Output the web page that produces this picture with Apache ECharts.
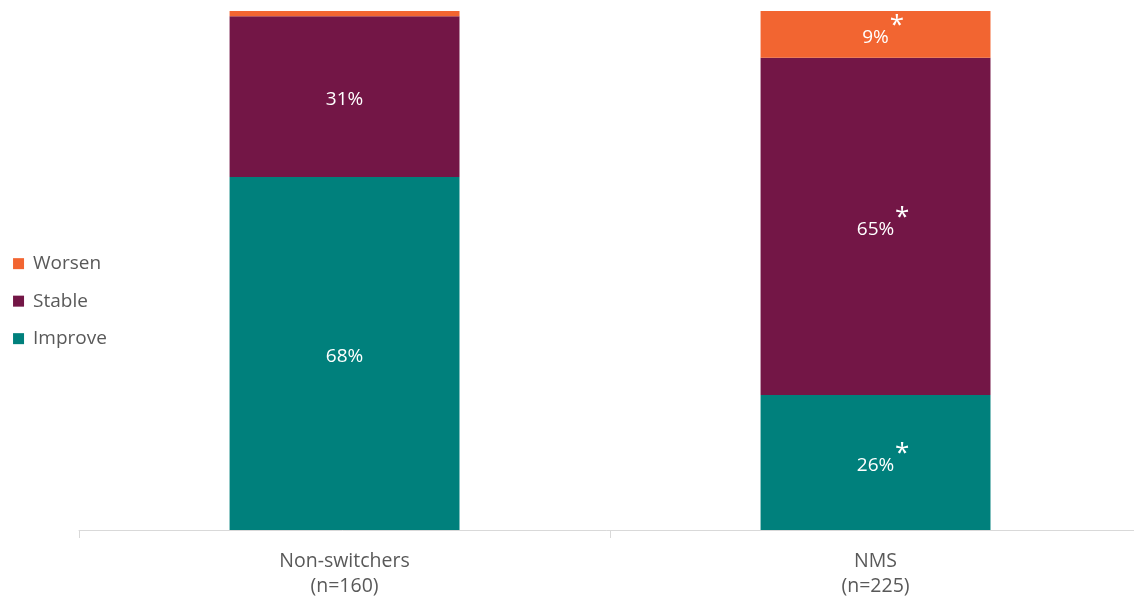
<!DOCTYPE html>
<html>
<head>
<meta charset="utf-8">
<script src="https://cdn.jsdelivr.net/npm/echarts@6/dist/echarts.min.js"></script>
<style>html,body{margin:0;padding:0;background:#fff;overflow:hidden}#c{width:100vw;height:100vh}</style>
</head>
<body>
<div id="c"></div>
<script>
const categories = ['Non-switchers\n(n=160)', 'NMS\n(n=225)'];
const improve = [68, 26];
const stable = [31, 65];
const worsen = [1, 9];
const improveStar = [false, true];
const stableStar = [false, true];
const worsenStar = [false, true];
const legendOrder = ['Worsen', 'Stable', 'Improve'];

const FONT = '"Open Sans", "Noto Sans", sans-serif';

function labelFor(stars, hideSmall) {
  return {
    show: true,
    position: 'inside',
    offset: [0, 3],
    formatter: function (p) {
      if (hideSmall && p.value < 3) return '';
      if (stars[p.dataIndex]) return '{pad|}{v|' + p.value + '%}{s|*}';
      return '{v|' + p.value + '%}';
    },
    rich: {
      v: { color: '#fff', fontSize: 19, fontFamily: FONT },
      pad: { width: 15 },
      s: { color: '#fff', fontSize: 26, fontFamily: FONT, width: 14, align: 'left', padding: [0, 0, 24, 1] }
    }
  };
}

const chart = echarts.init(document.getElementById('c'));
chart.setOption({
  animation: false,
  backgroundColor: '#fff',
  legend: {
    orient: 'vertical',
    left: '1.15%',
    top: '42.5%',
    padding: 0,
    itemWidth: 11,
    itemHeight: 11,
    itemGap: 18.5,
    icon: 'rect',
    data: legendOrder,
    textStyle: { color: '#595959', fontSize: 19, fontFamily: FONT, padding: [0, 0, 0, 4] }
  },
  grid: { left: '6.97%', top: '1.84%', width: '93.65%', height: '86.79%', containLabel: false, outerBoundsMode: 'none' },
  xAxis: {
    type: 'category',
    data: categories,
    axisLine: { show: true, lineStyle: { color: '#D9D9D9', width: 1 } },
    axisTick: { show: true, length: 8, alignWithLabel: false, lineStyle: { color: '#D9D9D9' } },
    axisLabel: { color: '#595959', fontSize: 19.5, fontFamily: FONT, lineHeight: 25, margin: 19 }
  },
  yAxis: {
    type: 'value', min: 0, max: 100, show: false, splitLine: { show: false }
  },
  series: [
    { name: 'Improve', type: 'bar', stack: 'a', barWidth: '43.3%', data: improve,
      itemStyle: { color: '#00807C' }, label: labelFor(improveStar, false) },
    { name: 'Stable', type: 'bar', stack: 'a', data: stable,
      itemStyle: { color: '#731646' }, label: labelFor(stableStar, false) },
    { name: 'Worsen', type: 'bar', stack: 'a', data: worsen,
      itemStyle: { color: '#F26531' }, label: labelFor(worsenStar, true) }
  ]
});
</script>
</body>
</html>
